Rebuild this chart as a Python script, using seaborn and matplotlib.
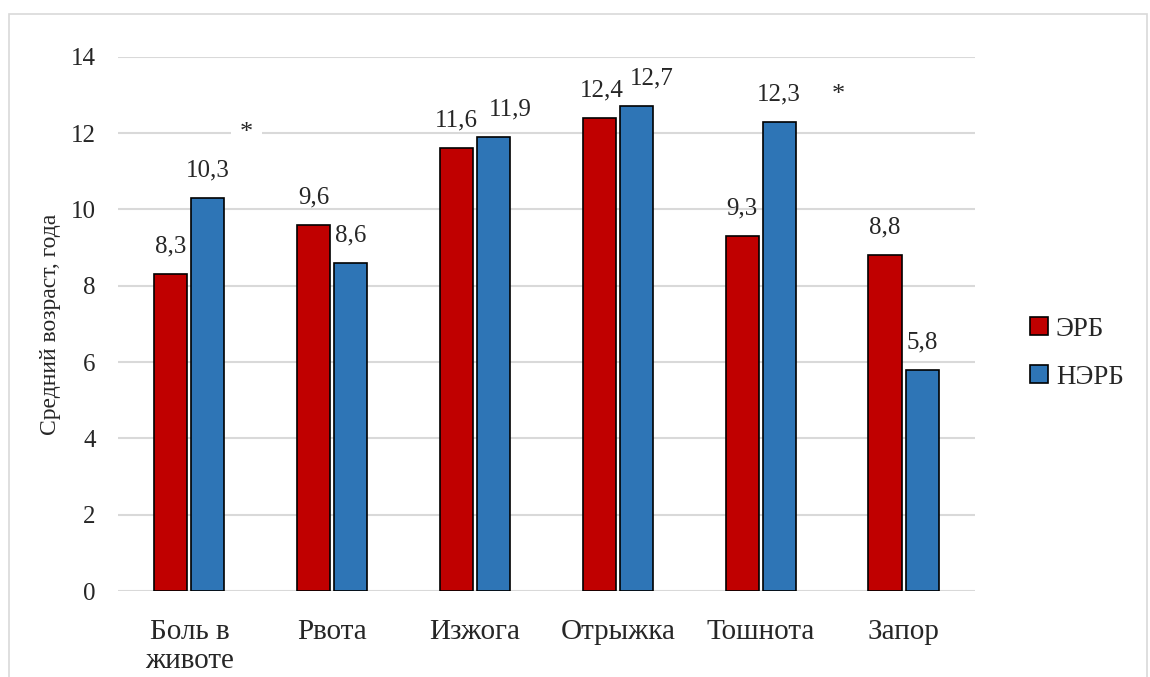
import matplotlib
matplotlib.use("Agg")
import matplotlib.pyplot as plt
import pandas as pd
import seaborn as sns
from matplotlib.patches import Rectangle

categories = ["Боль в\nживоте", "Рвота", "Изжога", "Отрыжка", "Тошнота", "Запор"]
erb = [8.3, 9.6, 11.6, 12.4, 9.3, 8.8]
nerb = [10.3, 8.6, 11.9, 12.7, 12.3, 5.8]
series = ["ЭРБ", "НЭРБ"]
colors = ["#C00000", "#2E75B6"]
y_ticks = [0, 2, 4, 6, 8, 10, 12, 14]

# horizontal nudges (points) for value labels that would otherwise collide
erb_label_dx = [0, 0, 0, 2, 0, 0]
nerb_label_dx = [0, 0, 12, 11, 0, 0]

df = pd.DataFrame({
    "cat": categories * 2,
    "val": erb + nerb,
    "grp": [series[0]] * len(categories) + [series[1]] * len(categories),
})

sns.set_theme(style="white")
FONT = "Liberation Serif"
plt.rcParams["font.family"] = "serif"
plt.rcParams["font.serif"] = [FONT, "DejaVu Serif"]

fig = plt.figure(figsize=(11.5, 6.77), dpi=100)
ax = fig.add_axes([0.1026, 0.127, 0.7452, 0.789])

sns.barplot(data=df, x="cat", y="val", hue="grp", palette=colors, order=categories,
            hue_order=series, width=0.52, gap=0.11, edgecolor="black", linewidth=1.2,
            saturation=1, ax=ax, legend=True, zorder=3)

ax.set_ylim(0, 14)
ax.set_xlim(-0.5, len(categories) - 0.5)
ax.set_yticks(y_ticks)
ax.set_yticklabels([str(t) for t in y_ticks], fontsize=18, family=FONT)
ax.set_xticks(range(len(categories)))
ax.set_xticklabels(categories, fontsize=21, family=FONT, linespacing=1.18)
ax.tick_params(axis="x", length=0, pad=20)
ax.tick_params(axis="y", length=0, pad=16)
ax.set_xlabel("")
ax.set_ylabel("Средний возраст, года", fontsize=17, family=FONT, labelpad=7)
ax.yaxis.grid(True, color="#D9D9D9", linewidth=1.5, zorder=0)
for s in ax.spines.values():
    s.set_visible(False)

for cont, dxs in zip(ax.containers, [erb_label_dx, nerb_label_dx]):
    anns = ax.bar_label(cont, labels=[f"{v:.1f}".replace(".", ",") for v in cont.datavalues],
                        fontsize=18, family=FONT, padding=12)
    for ann, dx in zip(anns, dxs):
        ann.xyann = (dx, ann.xyann[1])

# significance marks
ax.text(0.40, 12.0, "*", ha="center", va="center", fontsize=19, family=FONT, zorder=4,
        bbox=dict(facecolor="white", edgecolor="none", pad=6))
ax.text(4.54, 13.0, "*", ha="center", va="center", fontsize=19, family=FONT, zorder=4)

handles, labels = ax.get_legend_handles_labels()
ax.legend(handles, labels, loc="center left", bbox_to_anchor=(1.036, 0.445), frameon=False,
          prop={"family": FONT, "size": 19.5}, handlelength=0.65, handleheight=0.65,
          handletextpad=0.3, labelspacing=0.85)

fig.patches.append(Rectangle((9 / 1150, -0.05), 1138 / 1150, 1 - 14 / 677 + 0.05,
                             transform=fig.transFigure, fill=False,
                             edgecolor="#D9D9D9", linewidth=1.2))

fig.savefig("out.png", dpi=100)
